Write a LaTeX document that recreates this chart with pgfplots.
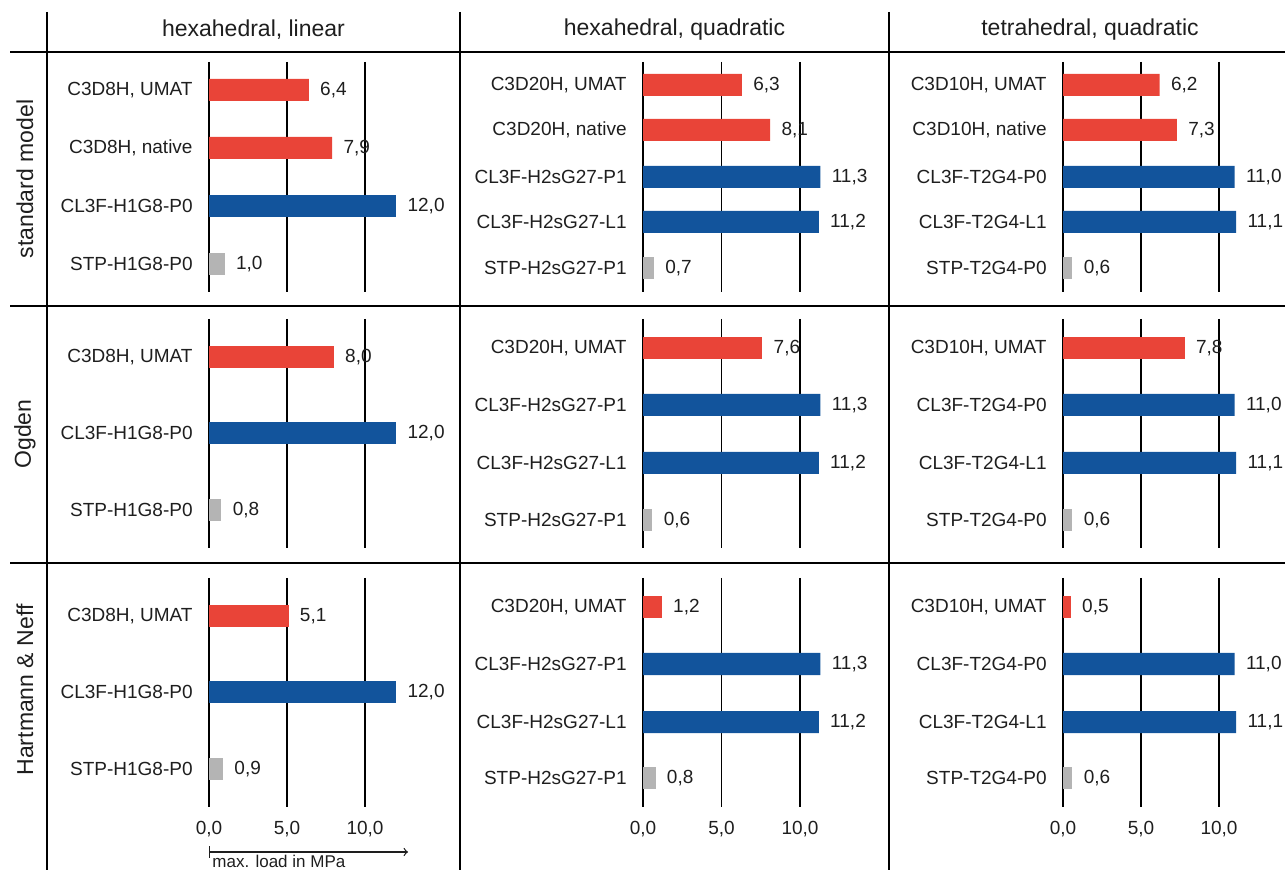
\documentclass[border=0pt]{standalone}
\usepackage{pgfplots}
\pgfplotsset{compat=1.18}
\usepackage{fontspec}
\setmainfont{Liberation Sans}
\definecolor{barred}{RGB}{233,68,56}
\definecolor{barblue}{RGB}{18,84,156}
\definecolor{bargray}{RGB}{180,180,180}
\definecolor{txt}{RGB}{30,30,30}
\pgfplotsset{
  panel/.style={
    xbar, bar shift=0pt, bar width=11pt,
    scale only axis, clip=false,
    xmin=0, xmax=12, y dir=reverse,
    axis line style={draw=none},
    major tick length=0pt,
    xtick={0,5,10},
    xmajorgrids, major grid style={black, line width=0.7pt},
    ymajorgrids=false,
    anchor=north west,
    tick label style={font=\fontsize{9.5pt}{11pt}\selectfont, text=txt},
    yticklabel style={inner sep=0pt, xshift=-8pt},
    xticklabel style={inner sep=0pt, anchor=north, yshift=-7pt},
    /pgf/number format/assume math mode=true,
    nodes near coords={\pgfmathprintnumber[fixed, fixed zerofill, precision=1, use comma, assume math mode=true]{\pgfplotspointmeta}},
    every node near coord/.append style={anchor=west, inner sep=0pt, xshift=5.5pt, font=\fontsize{9.5pt}{11pt}\selectfont, text=txt},
  },
  every axis plot/.append style={draw=none},
}
\begin{document}
\begin{tikzpicture}
\useasboundingbox (0,0) rectangle (642.5pt,-435pt);
% grid of the table
\draw[line width=0.8pt] (5pt,-26pt) -- (642.5pt,-26pt);
\draw[line width=0.8pt] (5pt,-153pt) -- (642.5pt,-153pt);
\draw[line width=0.8pt] (5pt,-281.5pt) -- (642.5pt,-281.5pt);
\draw[line width=0.8pt] (23.5pt,-6pt) -- (23.5pt,-435pt);
\draw[line width=0.8pt] (230pt,-6pt) -- (230pt,-435pt);
\draw[line width=0.8pt] (444.5pt,-6pt) -- (444.5pt,-435pt);
% headers
\node[font=\fontsize{11.5pt}{13pt}\selectfont, text=txt] at (126.75pt,-15pt) {hexahedral, linear};
\node[font=\fontsize{11.5pt}{13pt}\selectfont, text=txt] at (337.25pt,-15pt) {hexahedral, quadratic};
\node[font=\fontsize{11.5pt}{13pt}\selectfont, text=txt] at (545pt,-15pt) {tetrahedral, quadratic};
\node[font=\fontsize{11.5pt}{13pt}\selectfont, text=txt, rotate=90] at (12.5pt,-89.5pt) {standard model};
\node[font=\fontsize{11.5pt}{13pt}\selectfont, text=txt, rotate=90] at (12.5pt,-217pt) {Ogden};
\node[font=\fontsize{11.5pt}{13pt}\selectfont, text=txt, rotate=90] at (12.5pt,-345pt) {Hartmann \& Neff};

% ---------- row 1 ----------
\begin{axis}[panel, width=93.6pt, height=115pt, ymin=62, ymax=292,
  at={(104.5pt,-31pt)},
  ytick={90,148,206,264},
  yticklabels={{C3D8H, UMAT},{C3D8H, native},{CL3F-H1G8-P0},{STP-H1G8-P0}},
  xticklabels={}]
\addplot[fill=barred] coordinates {(6.4,90) (7.9,148)};
\addplot[fill=barblue] coordinates {(12.0,206)};
\addplot[fill=bargray] coordinates {(1.0,264)};
\end{axis}
\begin{axis}[panel, width=94.2pt, height=115pt, ymin=62, ymax=292,
  at={(321.5pt,-31pt)},
  ytick={85,130,177,222,268},
  yticklabels={{C3D20H, UMAT},{C3D20H, native},{CL3F-H2sG27-P1},{CL3F-H2sG27-L1},{STP-H2sG27-P1}},
  xticklabels={}]
\addplot[fill=barred] coordinates {(6.3,85) (8.1,130)};
\addplot[fill=barblue] coordinates {(11.3,177) (11.2,222)};
\addplot[fill=bargray] coordinates {(0.7,268)};
\end{axis}
\begin{axis}[panel, width=93.6pt, height=115pt, ymin=62, ymax=292,
  at={(531.5pt,-31pt)},
  ytick={85,130,177,222,268},
  yticklabels={{C3D10H, UMAT},{C3D10H, native},{CL3F-T2G4-P0},{CL3F-T2G4-L1},{STP-T2G4-P0}},
  xticklabels={}]
\addplot[fill=barred] coordinates {(6.2,85) (7.3,130)};
\addplot[fill=barblue] coordinates {(11.0,177) (11.1,222)};
\addplot[fill=bargray] coordinates {(0.6,268)};
\end{axis}

% ---------- row 2 ----------
\begin{axis}[panel, width=93.6pt, height=114.5pt, ymin=319, ymax=548,
  at={(104.5pt,-159.5pt)},
  ytick={357,433,510},
  yticklabels={{C3D8H, UMAT},{CL3F-H1G8-P0},{STP-H1G8-P0}},
  xticklabels={}]
\addplot[fill=barred] coordinates {(8.0,357)};
\addplot[fill=barblue] coordinates {(12.0,433)};
\addplot[fill=bargray] coordinates {(0.8,510)};
\end{axis}
\begin{axis}[panel, width=94.2pt, height=114.5pt, ymin=319, ymax=548,
  at={(321.5pt,-159.5pt)},
  ytick={348,405,463,520},
  yticklabels={{C3D20H, UMAT},{CL3F-H2sG27-P1},{CL3F-H2sG27-L1},{STP-H2sG27-P1}},
  xticklabels={}]
\addplot[fill=barred] coordinates {(7.6,348)};
\addplot[fill=barblue] coordinates {(11.3,405) (11.2,463)};
\addplot[fill=bargray] coordinates {(0.6,520)};
\end{axis}
\begin{axis}[panel, width=93.6pt, height=114.5pt, ymin=319, ymax=548,
  at={(531.5pt,-159.5pt)},
  ytick={348,405,463,520},
  yticklabels={{C3D10H, UMAT},{CL3F-T2G4-P0},{CL3F-T2G4-L1},{STP-T2G4-P0}},
  xticklabels={}]
\addplot[fill=barred] coordinates {(7.8,348)};
\addplot[fill=barblue] coordinates {(11.0,405) (11.1,463)};
\addplot[fill=bargray] coordinates {(0.6,520)};
\end{axis}

% ---------- row 3 ----------
\begin{axis}[panel, width=93.6pt, height=114.5pt, ymin=578, ymax=807,
  at={(104.5pt,-289pt)},
  ytick={616,692,769},
  yticklabels={{C3D8H, UMAT},{CL3F-H1G8-P0},{STP-H1G8-P0}},
  xticklabels={{0,0},{5,0},{10,0}}]
\addplot[fill=barred] coordinates {(5.1,616)};
\addplot[fill=barblue] coordinates {(12.0,692)};
\addplot[fill=bargray] coordinates {(0.9,769)};
\end{axis}
\begin{axis}[panel, width=94.2pt, height=114.5pt, ymin=578, ymax=807,
  at={(321.5pt,-289pt)},
  ytick={607,664,722,778},
  yticklabels={{C3D20H, UMAT},{CL3F-H2sG27-P1},{CL3F-H2sG27-L1},{STP-H2sG27-P1}},
  xticklabels={{0,0},{5,0},{10,0}}]
\addplot[fill=barred] coordinates {(1.2,607)};
\addplot[fill=barblue] coordinates {(11.3,664) (11.2,722)};
\addplot[fill=bargray] coordinates {(0.8,778)};
\end{axis}
\begin{axis}[panel, width=93.6pt, height=114.5pt, ymin=578, ymax=807,
  at={(531.5pt,-289pt)},
  ytick={607,664,722,778},
  yticklabels={{C3D10H, UMAT},{CL3F-T2G4-P0},{CL3F-T2G4-L1},{STP-T2G4-P0}},
  xticklabels={{0,0},{5,0},{10,0}}]
\addplot[fill=barred] coordinates {(0.5,607)};
\addplot[fill=barblue] coordinates {(11.0,664) (11.1,722)};
\addplot[fill=bargray] coordinates {(0.6,778)};
\end{axis}

% axis annotation
\draw[|->, line width=0.6pt, txt] (104.5pt,-426pt) -- (204pt,-426pt);
\node[anchor=base west, inner sep=0pt, font=\fontsize{8.5pt}{10pt}\selectfont, text=txt] at (106pt,-433.8pt) {max. load in MPa};
\end{tikzpicture}
\end{document}
